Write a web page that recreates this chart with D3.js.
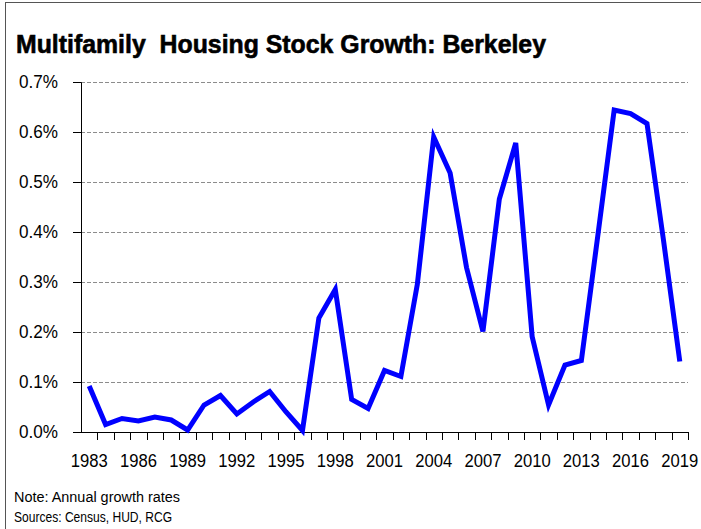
<!DOCTYPE html>
<html>
<head>
<meta charset="utf-8">
<script src="https://cdn.jsdelivr.net/npm/d3@7"></script>
<style>
  body { margin: 0; background: #fff; }
  text { font-family: "Liberation Sans", Arial, sans-serif; }
</style>
</head>
<body>
<div id="chart"></div>
<script>
// data - annual growth rate in percent
const years = d3.range(1983, 2020);
const growth = [
  0.092, 0.015, 0.027, 0.022, 0.030, 0.024, 0.004, 0.054, 0.073, 0.036,
  0.060, 0.081, 0.040, 0.003, 0.228, 0.285, 0.065, 0.047, 0.123, 0.111,
  0.295, 0.590, 0.518, 0.329, 0.201, 0.466, 0.578, 0.191, 0.054, 0.134,
  0.143, 0.392, 0.644, 0.637, 0.617, 0.385, 0.141
];
const yTicks = [0, 0.1, 0.2, 0.3, 0.4, 0.5, 0.6, 0.7];
const xLabelYears = d3.range(1983, 2020, 3);

const width = 701;
const height = 529;
const margin = { top: 82, right: 13, bottom: 97, left: 81 };
const ctrWidth = width - margin.left - margin.right;
const ctrHeight = height - margin.top - margin.bottom;

// no narrow font installed, so squeeze glyphs to the reference widths
const narrow = (sel, w) => sel.attr('textLength', w).attr('lengthAdjust', 'spacingAndGlyphs');

const svg = d3.select('#chart')
  .append('svg')
  .attr('width', width)
  .attr('height', height);

// frame (right and bottom edges fall off the picture)
svg.append('rect')
  .attr('x', 5.5).attr('y', 2.5)
  .attr('width', width + 10).attr('height', height + 10)
  .attr('fill', 'none').attr('stroke', '#555').attr('stroke-width', 1);

svg.append('text')
  .attr('x', 16).attr('y', 53)
  .attr('font-size', 25.5).attr('font-weight', 'bold')
  .attr('fill', '#000')
  .attr('stroke', '#000').attr('stroke-width', 0.6)
  .style('white-space', 'pre')
  .text('Multifamily  Housing Stock Growth: Berkeley')
  .call(narrow, 530);

const ctr = svg.append('g')
  .attr('transform', `translate(${margin.left}, ${margin.top})`);

// scales
const xScale = d3.scaleBand()
  .domain(years)
  .range([0, ctrWidth]);

const yScale = d3.scaleLinear()
  .domain([0, 0.7])
  .range([ctrHeight, 0]);

// gridlines
ctr.append('g')
  .selectAll('line')
  .data(yTicks.slice(1))
  .join('line')
  .attr('x1', 0).attr('x2', ctrWidth)
  .attr('y1', d => Math.round(yScale(d)) + 0.5)
  .attr('y2', d => Math.round(yScale(d)) + 0.5)
  .attr('stroke', '#8c8c8c')
  .attr('stroke-dasharray', '4,2');

// y axis
const yAxis = d3.axisLeft(yScale)
  .tickValues(yTicks)
  .tickSize(8)
  .tickPadding(15)
  .tickFormat(d => d.toFixed(1) + '%');

const yAxisGroup = ctr.append('g').call(yAxis);
yAxisGroup.select('.domain').attr('stroke', '#000');
yAxisGroup.selectAll('.tick line').attr('stroke', '#000');
yAxisGroup.selectAll('.tick text')
  .attr('font-size', 18)
  .attr('fill', '#000')
  .attr('font-family', '"Liberation Sans", Arial, sans-serif')
  .call(narrow, 39);

// x axis: ticks on band edges, labels every third year
const xAxisGroup = ctr.append('g')
  .attr('transform', `translate(0, ${ctrHeight})`);

xAxisGroup.append('line')
  .attr('x1', 0).attr('x2', ctrWidth)
  .attr('y1', 0.5).attr('y2', 0.5)
  .attr('stroke', '#000');

xAxisGroup.selectAll('.edge')
  .data(years.slice(1).concat([null]))
  .join('line')
  .attr('class', 'edge')
  .attr('x1', d => Math.round(d === null ? ctrWidth : xScale(d)) + 0.5)
  .attr('x2', d => Math.round(d === null ? ctrWidth : xScale(d)) + 0.5)
  .attr('y1', 0).attr('y2', 8)
  .attr('stroke', '#000');

xAxisGroup.selectAll('.label')
  .data(xLabelYears)
  .join('text')
  .attr('class', 'label')
  .attr('x', d => xScale(d) + xScale.bandwidth() / 2)
  .attr('y', 35)
  .attr('text-anchor', 'middle')
  .attr('font-size', 18)
  .attr('fill', '#000')
  .text(d => d)
  .call(narrow, 37);

// line
const line = d3.line()
  .x((d, i) => xScale(years[i]) + xScale.bandwidth() / 2)
  .y(d => yScale(d));

ctr.append('path')
  .datum(growth)
  .attr('d', line)
  .attr('fill', 'none')
  .attr('stroke', '#0000ff')
  .attr('stroke-width', 5)
  .attr('stroke-linejoin', 'miter');

// notes
svg.append('text')
  .attr('x', 14).attr('y', 502)
  .attr('font-size', 14).attr('fill', '#000')
  .text('Note: Annual growth rates')
  .call(narrow, 166);

svg.append('text')
  .attr('x', 14).attr('y', 522)
  .attr('font-size', 14).attr('fill', '#000')
  .text('Sources: Census, HUD, RCG')
  .call(narrow, 158);
</script>
</body>
</html>
